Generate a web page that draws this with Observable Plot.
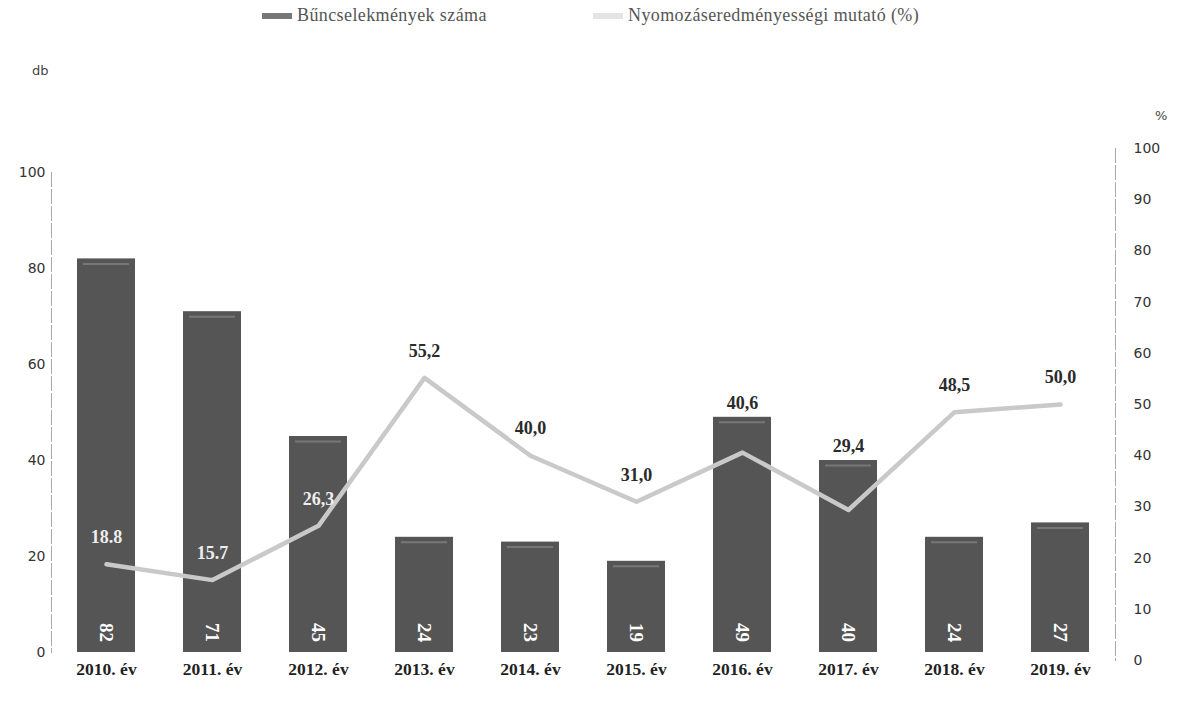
<!DOCTYPE html>
<html><head><meta charset="utf-8">
<script src="https://cdn.jsdelivr.net/npm/d3@7"></script>
<script src="https://cdn.jsdelivr.net/npm/@observablehq/plot@0.6"></script>
<style>
body{margin:0;background:#fff;}
#wrap{position:relative;width:1177px;height:703px;overflow:hidden;background:#fff;}
#legend{position:absolute;left:0;top:0;width:1177px;height:40px;font-family:"Liberation Serif",serif;font-size:18px;letter-spacing:0.4px;color:#555;}
.item{position:absolute;top:5px;display:flex;align-items:center;white-space:nowrap;}
.sw{display:inline-block;width:30px;height:6px;margin-right:5px;}
#chart{position:absolute;left:0;top:40px;width:1177px;height:663px;}
#chart svg{position:absolute;left:0;top:0;}
.unit{position:absolute;font-family:"DejaVu Sans",sans-serif;font-size:13px;color:#444;}
</style></head><body>
<div id="wrap">
  <div id="legend">
    <div class="item" style="left:262px"><span class="sw" style="background:#777"></span>Bűncselekmények száma</div>
    <div class="item" style="left:593px"><span class="sw" style="background:#e4e4e4"></span>Nyomozáseredményességi mutató (%)</div>
  </div>
  <div id="chart"></div>
  <div class="unit" style="left:32px;top:63px">db</div>
  <div class="unit" style="left:1155px;top:108px">%</div>
</div>
<script>
// ---- data ----
const years = [2010, 2011, 2012, 2013, 2014, 2015, 2016, 2017, 2018, 2019];
const crimes = [82, 71, 45, 24, 23, 19, 49, 40, 24, 27];
const rate = [18.8, 15.7, 26.3, 55.2, 40.0, 31.0, 40.6, 29.4, 48.5, 50.0];
const rateLabels = ["18.8", "15.7", "26,3", "55,2", "40,0", "31,0", "40,6", "29,4", "48,5", "50,0"];
const leftTicks = [0, 20, 40, 60, 80, 100];
const rightTicks = [0, 10, 20, 30, 40, 50, 60, 70, 80, 90, 100];

const data = years.map((y, i) => ({year: y, crimes: crimes[i], rate: rate[i], label: rateLabels[i]}));

// ---- layout ----
const W = 1177, H = 663, ML = 51, MR = 62;
const MT1 = 132, MB1 = 51;   // left axis (db)
const MT2 = 108, MB2 = 43;   // right axis (%)
const xOpts = {type: "band", domain: years, paddingInner: 0.45, paddingOuter: 0.225, label: null};

const p1 = Plot.plot({
  width: W, height: H, marginLeft: ML, marginRight: MR, marginTop: MT1, marginBottom: MB1,
  style: {background: "transparent", overflow: "visible"},
  x: xOpts,
  y: {domain: [0, 100], label: null},
  marks: [
    Plot.frame({anchor: "left", stroke: "#aaa", strokeDasharray: "14,3"}),
    Plot.axisY(leftTicks, {anchor: "left", tickSize: 0, tickPadding: 6, fontSize: 14,
      fontFamily: "DejaVu Sans", fill: "#333", label: null}),
    Plot.axisX({tickSize: 0, tickPadding: 10, tickFormat: d => `${d}. év`, fontSize: 17.5,
      fontWeight: "bold", fontFamily: "Liberation Serif", fill: "#222", label: null}),
    Plot.barY(data, {x: "year", y: "crimes", fill: "#555"}),
    Plot.tickY(data, {x: "year", y: "crimes", dy: 5, stroke: "#777", strokeWidth: 2, inset: 6}),
    Plot.text(data, {x: "year", y: 0, text: d => String(d.crimes), rotate: 90, dy: -20,
      fill: "white", fontSize: 19, fontWeight: "bold", fontFamily: "Liberation Serif"})
  ]
});

const y1 = p1.scale("y");
const y2 = Plot.scale({y: {domain: [0, 100], range: [H - MB2, MT2]}});
const labelData = data.map(d => {
  let py = y2.apply(d.rate) - 27;
  const top = y1.apply(d.crimes);
  let fill = "#2b2b2b";
  if (py > top + 30) fill = "#eeeeee";
  else if (py > top - 12) py = top - 14;
  return {...d, ly: y2.invert(py), fill};
});

const p2 = Plot.plot({
  width: W, height: H, marginLeft: ML, marginRight: MR, marginTop: MT2, marginBottom: MB2,
  style: {background: "transparent", overflow: "visible"},
  x: {...xOpts, axis: null},
  y: {domain: [0, 100], label: null, axis: null},
  color: {type: "identity"},
  marks: [
    Plot.frame({anchor: "right", stroke: "#aaa", strokeDasharray: "14,3"}),
    Plot.axisY(rightTicks, {anchor: "right", tickSize: 0, tickPadding: 18, fontSize: 14,
      fontFamily: "DejaVu Sans", fill: "#333", label: null}),
    Plot.lineY(data, {x: "year", y: "rate", stroke: "#c9c9c9", strokeWidth: 4.5,
      strokeLinecap: "round", strokeLinejoin: "round"}),
    Plot.text(labelData, {x: "year", y: "ly", text: "label", fill: "fill", fontSize: 18,
      fontWeight: "bold", fontFamily: "Liberation Serif"})
  ]
});

const chart = document.getElementById("chart");
chart.appendChild(p1);
chart.appendChild(p2);
</script>
</body></html>
